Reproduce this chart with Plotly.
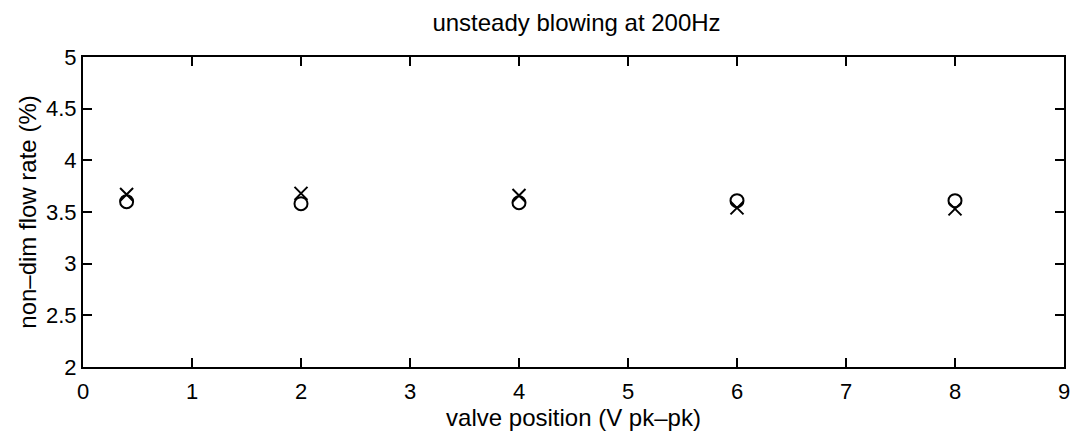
import plotly.graph_objects as go

valve = [0.4, 2, 4, 6, 8]
flow_x = [3.67, 3.68, 3.66, 3.54, 3.53]
flow_o = [3.60, 3.58, 3.59, 3.61, 3.61]

x_ticks = list(range(0, 10))
y_ticks = [2, 2.5, 3, 3.5, 4, 4.5, 5]

FONT = "Liberation Sans, Arial, Helvetica"

fig = go.Figure()
fig.add_trace(go.Scatter(x=valve, y=flow_x, mode="markers",
                         marker=dict(symbol="x-thin", size=13, color="black",
                                     line=dict(width=2, color="black"))))
fig.add_trace(go.Scatter(x=valve, y=flow_o, mode="markers",
                         marker=dict(symbol="circle-open", size=13, color="black",
                                     line=dict(width=2, color="black"))))

axis_common = dict(showgrid=False, zeroline=False, showline=True, mirror="ticks",
                   linecolor="black", linewidth=2, ticks="inside", ticklen=9,
                   tickwidth=1.5, tickcolor="black",
                   tickfont=dict(family=FONT, size=22, color="black"))

fig.update_layout(
    width=1078, height=433,
    margin=dict(l=83, r=8, t=57, b=66),
    paper_bgcolor="white", plot_bgcolor="white",
    showlegend=False,
    title=dict(text="unsteady blowing at 200Hz", x=(83 + 1070) / 2 / 1078, xanchor="center",
               y=1 - 23 / 433, yanchor="middle",
               font=dict(family=FONT, size=24, color="black")),
    xaxis=dict(range=[0, 9], tickvals=x_ticks, ticktext=[str(t) for t in x_ticks],
               ticklabelstandoff=4,
               title=dict(text="valve position (V pk\u2013pk)", standoff=2,
                          font=dict(family=FONT, size=24, color="black")),
               **axis_common),
    yaxis=dict(range=[2, 5], tickvals=y_ticks, ticktext=[f"{t:g}" for t in y_ticks],
               title=dict(text="non\u2013dim flow rate (%)", standoff=3,
                          font=dict(family=FONT, size=24, color="black")),
               **axis_common),
)

fig.write_html("out.html")
